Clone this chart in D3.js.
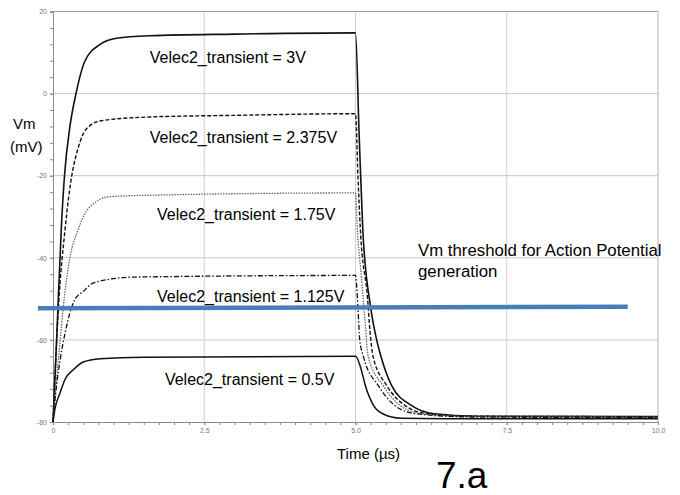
<!DOCTYPE html>
<html><head><meta charset="utf-8">
<script src="https://cdn.jsdelivr.net/npm/d3@7"></script>
<style>
body{margin:0;background:#fff;}
svg{display:block;}
</style></head>
<body>
<svg id="c" width="680" height="495"></svg>
<script>
// ---- data ----
const xTicks = [0, 2.5, 5.0, 7.5, 10.0];
const xTickLabels = ["0", "2.5", "5.0", "7.5", "10.0"];
const yTicks = [20, 0, -20, -40, -60, -80];
const yTickLabels = ["20", "0", "-20", "-40", "-60", "-80"];

const t3V   = [0,0.06,0.14,0.19,0.28,0.38,0.53,0.78,1.05,1.6,3,5, 5.06,5.12,5.25,5.35,5.42,5.6,5.93,6.3,7,10];
const v3V   = [-80,-60,-32,-20,-8,0,8,12,13.5,14.1,14.5,14.8, -10,-33,-52,-60,-64,-71.2,-76,-78,-78.6,-78.7];

const t2375 = [0,0.09,0.2,0.31,0.39,0.5,0.61,0.8,1.6,3,5, 5.04,5.08,5.2,5.24,5.29,5.52,5.82,6.2,7,10];
const v2375 = [-80,-52,-33,-20,-14.6,-9.8,-7.8,-6.6,-5.7,-5.3,-4.9, -20,-33,-50,-58,-64,-71.2,-76,-78,-78.6,-78.7];

const t175  = [0,0.05,0.12,0.17,0.28,0.42,0.5,0.61,0.94,1.77,5, 5.03,5.1,5.15,5.21,5.46,5.74,6.1,7,10];
const v175  = [-80,-71,-60,-52,-40,-33,-30,-27.6,-25.1,-24.7,-24.2, -33,-45,-54,-64,-71.2,-76,-78,-78.7,-78.8];

const t1125 = [0,0.06,0.12,0.2,0.28,0.36,0.5,0.67,1.33,5, 5.04,5.07,5.13,5.38,5.65,6.0,7,10];
const v1125 = [-80,-71,-64.7,-58.3,-53.4,-50.2,-48.2,-46.1,-44.7,-44.3, -52,-60,-64,-71.2,-76,-78,-78.8,-78.9];

const t05   = [0,0.03,0.12,0.2,0.34,0.5,0.78,1.5,5, 5.1,5.16,5.3,5.45,5.75,6.5,10];
const v05   = [-80,-77,-72.8,-69.6,-67.2,-65.4,-64.6,-64.2,-64, -67.5,-71,-76,-78,-79.1,-79.2,-79.2];

const seriesNames = ["Velec2_transient = 3V", "Velec2_transient = 2.375V", "Velec2_transient = 1.75V", "Velec2_transient = 1.125V", "Velec2_transient = 0.5V"];
const labelAnchorT = [1.60, 1.60, 1.72, 1.72, 1.85];
const labelAnchorV = [8.5, -11.1, -29.8, -49.8, -70.0];

const thresholdT = [-0.25, 9.5];
const thresholdV = [-52.3, -51.9];
const thresholdText = ["Vm threshold for Action Potential", "generation"];

// ---- layout ----
const svg = d3.select("#c");
const x = d3.scaleLinear().domain([0, 10]).range([53, 658]);
const y = d3.scaleLinear().domain([-80, 20]).range([422, 11.5]);

// grid
const g = svg.append("g");
g.selectAll(".hg").data([0,-20,-40,-60]).enter().append("line")
  .attr("x1", x(0)).attr("x2", x(10)).attr("y1", d=>y(d)).attr("y2", d=>y(d))
  .attr("stroke", "#c8c8c8").attr("stroke-width", 1);
g.selectAll(".vg").data([2.5,5.0,7.5]).enter().append("line")
  .attr("y1", y(20)).attr("y2", y(-80)).attr("x1", d=>x(d)).attr("x2", d=>x(d))
  .attr("stroke", "#d0d0d0").attr("stroke-width", 1);
g.append("line").attr("x1", x(0)).attr("x2", x(10)).attr("y1", y(20)).attr("y2", y(20)).attr("stroke", "#a0a0a0");
g.append("line").attr("x1", x(10)).attr("x2", x(10)).attr("y1", y(20)).attr("y2", y(-80)).attr("stroke", "#b0b0b0");

// axes
const xAxis = d3.axisBottom(x).tickValues(xTicks).tickFormat((d,i)=>xTickLabels[i]).tickSize(3);
const xAxisMinor = d3.axisBottom(x).tickValues(d3.range(0, 10.001, 0.25)).tickFormat("").tickSize(3);
svg.append("g").attr("transform", `translate(0,${y(-80)})`).call(xAxisMinor);
svg.append("g").attr("transform", `translate(0,${y(-80)})`).call(xAxis);
const yAxis = d3.axisLeft(y).tickValues(yTicks).tickFormat((d,i)=>yTickLabels[i]).tickSize(3);
const yAxisMinor = d3.axisLeft(y).tickValues(d3.range(-80, 20.001, 4)).tickFormat("").tickSize(3);
svg.append("g").attr("transform", `translate(${x(0)},0)`).call(yAxisMinor);
svg.append("g").attr("transform", `translate(${x(0)},0)`).call(yAxis);
svg.selectAll(".domain").attr("stroke", "#8a8a8a");
svg.selectAll(".tick line").attr("stroke", "#8a8a8a");
svg.selectAll(".tick text").attr("fill", "#777").style("font-family", "Liberation Sans, Arial, sans-serif").style("font-size", "7px");

// series
const line = d3.line().x(d=>x(d[0])).y(d=>y(d[1])).curve(d3.curveMonotoneX);
const series = [
  {t:t3V, v:v3V, color:"#111", dash:null, w:1.6},
  {t:t2375, v:v2375, color:"#111", dash:"4,2", w:1.4},
  {t:t175, v:v175, color:"#666", dash:"1.5,1.2", w:1.3},
  {t:t1125, v:v1125, color:"#111", dash:"5,2,1.5,2", w:1.3},
  {t:t05, v:v05, color:"#111", dash:null, w:1.5}
];
series.forEach(s=>{
  svg.append("path").datum(s.t.map((t,i)=>[t, s.v[i]]))
    .attr("d", line).attr("fill", "none").attr("stroke", s.color)
    .attr("stroke-width", s.w).attr("stroke-dasharray", s.dash);
});

// series labels
const labelFont = "Liberation Sans, Arial, sans-serif";
seriesNames.forEach((name,i)=>{
  svg.append("text").attr("x", x(labelAnchorT[i])).attr("y", y(labelAnchorV[i]))
    .attr("font-family", labelFont).attr("font-size", 16).attr("fill", "#000")
    .attr("dominant-baseline", "middle").text(name);
});

// threshold line
svg.append("line").attr("x1", x(thresholdT[0])).attr("x2", x(thresholdT[1]))
  .attr("y1", y(thresholdV[0])).attr("y2", y(thresholdV[1]))
  .attr("stroke", "#4a7ebb").attr("stroke-width", 4.5);
thresholdText.forEach((tx,i)=>{
  svg.append("text").attr("x", 418).attr("y", 256 + i*21)
    .attr("font-family", labelFont).attr("font-size", 16.8).attr("fill", "#000").text(tx);
});

// axis titles
svg.append("text").attr("x", 13).attr("y", 129).attr("font-family", labelFont).attr("font-size", 15).text("Vm");
svg.append("text").attr("x", 10).attr("y", 152).attr("font-family", labelFont).attr("font-size", 15).text("(mV)");
svg.append("text").attr("x", 337).attr("y", 459).attr("font-family", labelFont).attr("font-size", 15).text("Time (µs)");
svg.append("text").attr("x", 436).attr("y", 488).attr("font-family", labelFont).attr("font-size", 37).text("7.a");
</script>
</body></html>
